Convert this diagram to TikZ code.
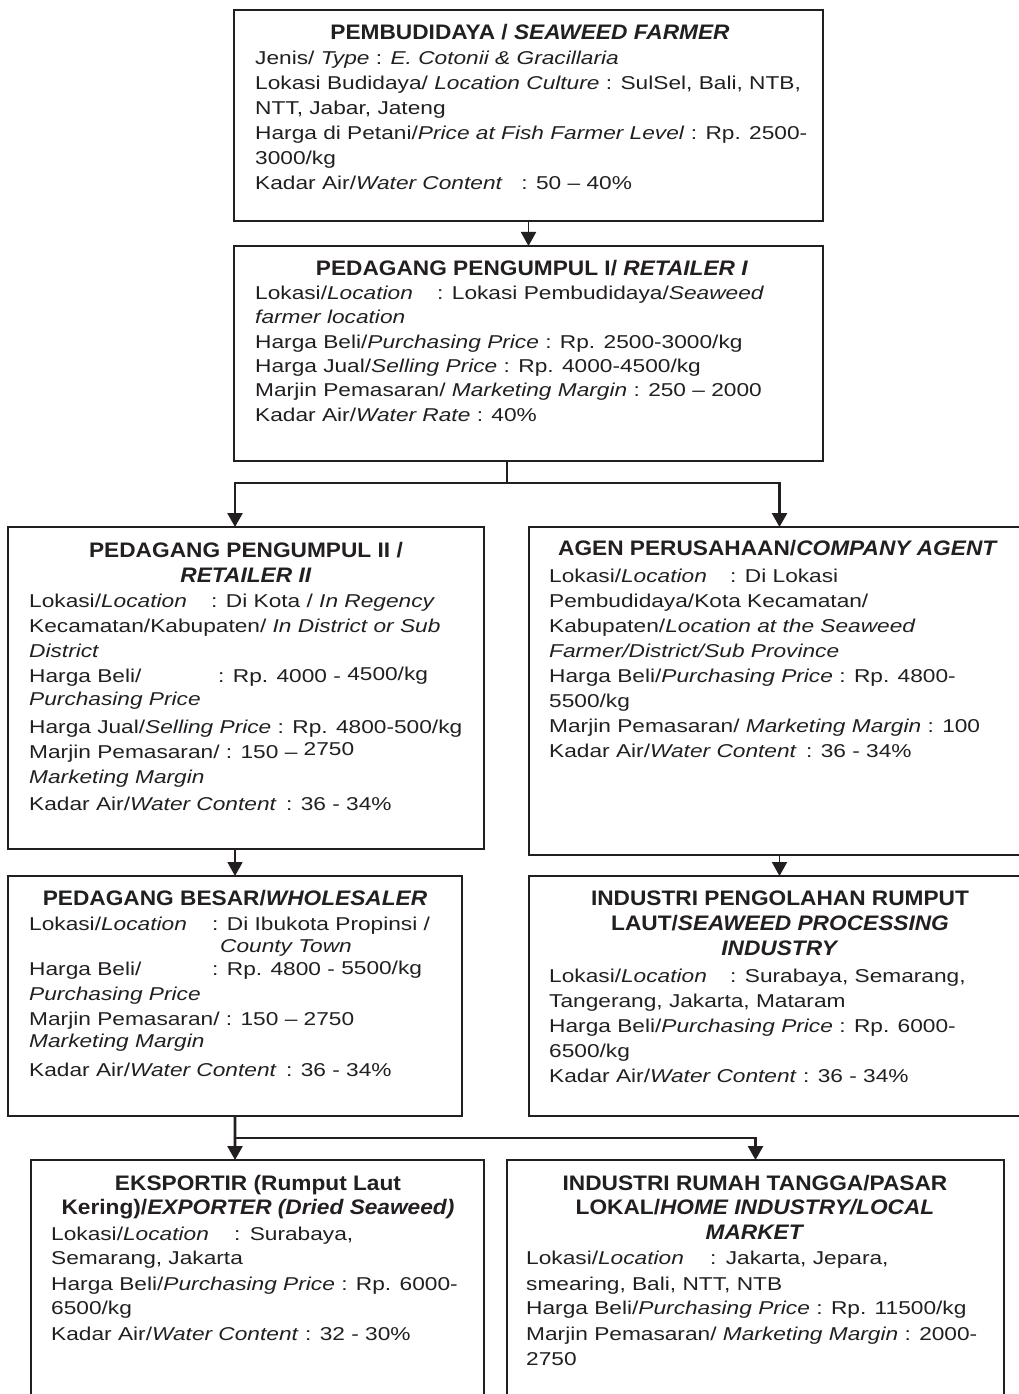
\documentclass[tikz,border=0pt]{standalone}
\usepackage{fontspec}
\setmainfont[FakeStretch=1.22]{Liberation Sans}
\newfontfamily\ttlfont[FakeStretch=1.08]{Liberation Sans}
\usetikzlibrary{arrows.meta,calc}
\definecolor{ink}{HTML}{231F20}
\newcommand{\fs}{\fontsize{18.6bp}{25bp}\selectfont}
\newcommand{\tfs}{\ttlfont\fontsize{21bp}{25bp}\selectfont\bfseries}
\newcommand{\fl}{\rule{0pt}{17.5bp}}
\tikzset{
  box/.style={draw=ink, line width=1.3bp, rectangle, inner sep=0pt, outer sep=0pt, anchor=north west},
  ttl/.style={anchor=north, align=center, inner sep=0pt, text=ink, font=\tfs},
  body/.style={anchor=north west, align=left, inner sep=0pt, text=ink, font=\fs},
  tip/.style={-{Triangle[width=15bp,length=14bp]}},
  flow/.style={draw=ink, line width=1.8bp, tip},
  branch/.style={draw=ink, line width=2.6bp, line join=miter},
}
\begin{document}
\begin{tikzpicture}[x=1bp,y=-1bp]
\fill[white] (0,0) rectangle (1018,1394);
\useasboundingbox (0,0) rectangle (1018,1394);

% ---------- boxes ----------
\node[box, minimum width=589bp, minimum height=211bp] (b1) at (234,10) {};
\node[box, minimum width=589bp, minimum height=215bp] (b2) at (234,246) {};
\node[box, minimum width=476bp, minimum height=322bp] (b3) at (8,527) {};
\node[box, minimum width=501bp, minimum height=328bp] (b4) at (529,527) {};
\node[box, minimum width=454bp, minimum height=240bp] (b5) at (8,876) {};
\node[box, minimum width=501bp, minimum height=240bp] (b6) at (529,876) {};
\node[box, minimum width=453bp, minimum height=250bp] (b7) at (31,1160) {};
\node[box, minimum width=497bp, minimum height=250bp] (b8) at (507,1160) {};

% ---------- box 1 ----------
\node[ttl] (t1) at (530,21.5) {\fl PEMBUDIDAYA / \textit{SEAWEED FARMER}};
\node[body] (d1) at (255,46.5) {\fl Jenis/ \textit{Type} : \textit{E. Cotonii \& Gracillaria}\\
Lokasi Budidaya/ \textit{Location Culture} : SulSel, Bali, NTB,\\
NTT, Jabar, Jateng\\
Harga di Petani/\textit{Price at Fish Farmer Level} : Rp. 2500-\\
3000/kg\\
Kadar Air/\textit{Water Content}\quad : 50 – 40\%};

% ---------- box 2 ----------
\node[ttl] (t2) at (532,257.5) {\fl PEDAGANG PENGUMPUL I/ \textit{RETAILER I}};
\node[body, font=\fontsize{18.6bp}{24.4bp}\selectfont] (d2) at (255,281.5) {\fl \makebox[182bp][l]{Lokasi/\textit{Location}}: Lokasi Pembudidaya/\textit{Seaweed}\\
\textit{farmer location}\\
Harga Beli/\textit{Purchasing Price} : Rp. 2500-3000/kg\\
Harga Jual/\textit{Selling Price} : Rp. 4000-4500/kg\\
Marjin Pemasaran/ \textit{Marketing Margin} : 250 – 2000\\
Kadar Air/\textit{Water Rate} : 40\%};

% ---------- box 3 ----------
\node[ttl] (t3) at (246,539.5) {\fl PEDAGANG PENGUMPUL II /\\ \textit{RETAILER II}};
\node[body] (d3) at (29,589.5) {\fl \makebox[182bp][l]{Lokasi/\textit{Location}}: Di Kota / \textit{In Regency}\\
Kecamatan/Kabupaten/ \textit{In District or Sub}\\
\textit{District}\\
\makebox[189bp][l]{Harga Beli/}: Rp. 4000 - \raisebox{2bp}{4500/kg}\\[-2bp]
\textit{Purchasing Price}\\[3bp]
Harga Jual/\textit{Selling Price} : Rp. 4800-500/kg\\
Marjin Pemasaran/ : 150 – \raisebox{3bp}{2750}\\
\textit{Marketing Margin}\\[2bp]
Kadar Air/\textit{Water Content}\enspace : 36 - 34\%};

% ---------- box 4 ----------
\node[ttl] (t4) at (778,537.5) {\fl AGEN PERUSAHAAN/\textit{COMPANY AGENT}};
\node[body] (d4) at (549,564.5) {\fl \makebox[181bp][l]{Lokasi/\textit{Location}}: Di Lokasi\\
Pembudidaya/Kota Kecamatan/\\
Kabupaten/\textit{Location at the Seaweed}\\
\textit{Farmer/District/Sub Province}\\
Harga Beli/\textit{Purchasing Price} : Rp. 4800-\\
5500/kg\\
Marjin Pemasaran/ \textit{Marketing Margin} : 100\\
Kadar Air/\textit{Water Content}\enspace : 36 - 34\%};

% ---------- box 5 ----------
\node[ttl] (t5) at (235,887.5) {\fl PEDAGANG BESAR/\textit{WHOLESALER}};
\node[body] (d5) at (29,912.5) {\fl \makebox[183bp][l]{Lokasi/\textit{Location}}: Di Ibukota Propinsi /\\[-3bp]
\hspace*{191bp}\textit{County Town}\\[-2bp]
\makebox[183bp][l]{Harga Beli/}: Rp. 4800 - \raisebox{1bp}{5500/kg}\\
\textit{Purchasing Price}\\
Marjin Pemasaran/ : 150 – 2750\\[-3bp]
\textit{Marketing Margin}\\[4bp]
Kadar Air/\textit{Water Content}\enspace : 36 - 34\%};

% ---------- box 6 ----------
\node[ttl] (t6) at (780,887.5) {\fl INDUSTRI PENGOLAHAN RUMPUT\\ LAUT/\textit{SEAWEED PROCESSING}\\ \textit{INDUSTRY}};
\node[body] (d6) at (549,964.5) {\fl \makebox[181bp][l]{Lokasi/\textit{Location}}: Surabaya, Semarang,\\
Tangerang, Jakarta, Mataram\\
Harga Beli/\textit{Purchasing Price} : Rp. 6000-\\
6500/kg\\
Kadar Air/\textit{Water Content} : 36 - 34\%};

% ---------- box 7 ----------
\node[ttl, font=\ttlfont\fontsize{21bp}{24bp}\selectfont\bfseries] (t7) at (258,1172.5) {\fl EKSPORTIR (Rumput Laut\\ Kering)/\textit{EXPORTER (Dried Seaweed)}};
\node[body] (d7) at (51,1222.5) {\fl \makebox[183bp][l]{Lokasi/\textit{Location}}:\enspace Surabaya,\\[-1bp]
Semarang, Jakarta\\[1bp]
Harga Beli/\textit{Purchasing Price} : Rp. 6000-\\[-1bp]
6500/kg\\[1bp]
Kadar Air/\textit{Water Content} : 32 - 30\%};

% ---------- box 8 ----------
\node[ttl, font=\ttlfont\fontsize{21bp}{24.5bp}\selectfont\bfseries] (t8) at (755,1172.5) {\fl INDUSTRI RUMAH TANGGA/PASAR\\ LOKAL/\textit{HOME INDUSTRY/LOCAL}\\ \textit{MARKET}};
\node[body] (d8) at (526,1246.5) {\fl \makebox[184bp][l]{Lokasi/\textit{Location}}:\enspace Jakarta, Jepara,\\[1bp]
smearing, Bali, NTT, NTB\\[-1bp]
Harga Beli/\textit{Purchasing Price} : Rp. 11500/kg\\[1bp]
Marjin Pemasaran/ \textit{Marketing Margin} : 2000-\\
2750};

% ---------- connectors ----------
\coordinate (j1) at (507,483);
\coordinate (j2) at (235,1138);
\draw[flow] (b1.south) -- (b2.north);
\draw[branch] (b2.south -| j1) -- (j1);
\draw[branch, tip] (j1) -| ([xshift=227bp]b3.north west);
\draw[branch, tip] (j1) -| (b4.north);
\draw[flow] (b5.north |- b3.south) -- (b5.north);
\draw[flow] (b4.south) -- (b6.north);
\draw[branch] (b5.south) -- (j2);
\draw[branch, tip] (j2) -- ([xshift=204bp]b7.north west);
\draw[branch, tip] (j2) -| (b8.north);
\end{tikzpicture}
\end{document}
